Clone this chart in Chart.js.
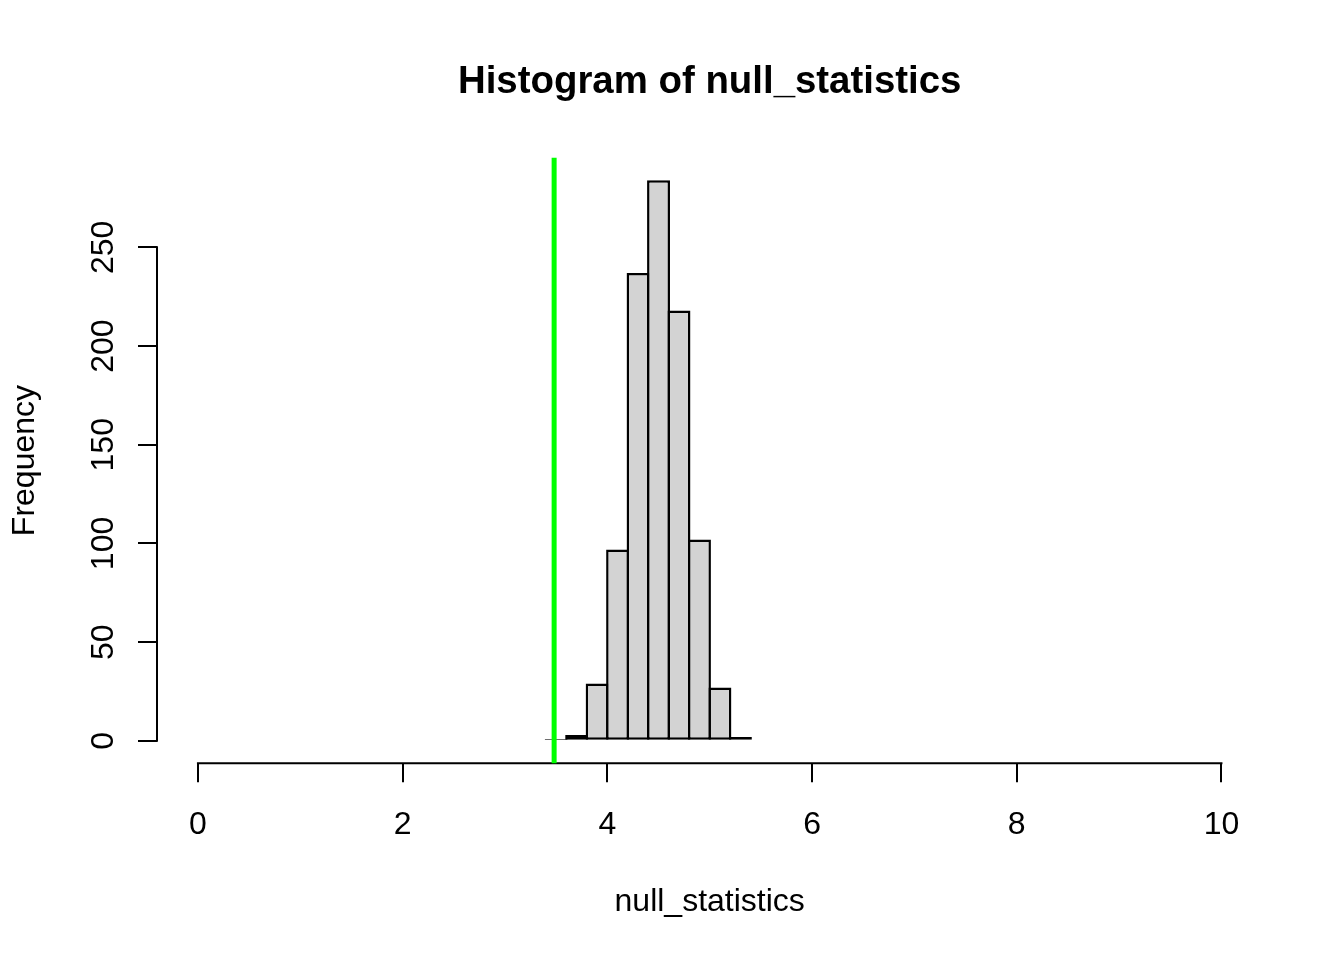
<!DOCTYPE html>
<html>
<head>
<meta charset="utf-8">
<title>Histogram of null_statistics</title>
<script src="https://cdn.jsdelivr.net/npm/chart.js@4.4.1/dist/chart.umd.min.js"></script>
<style>
  html, body { margin: 0; padding: 0; background: #ffffff; }
  #hist { display: block; }
</style>
</head>
<body>
<canvas id="hist" width="1344" height="960"></canvas>
<script>
// histogram bins (width 0.2)
const binCenters = [3.5, 3.7, 3.9, 4.1, 4.3, 4.5, 4.7, 4.9, 5.1, 5.3];
const binCounts = [1, 3, 29, 97, 237, 284, 218, 102, 27, 2];
const xTicks = [0, 2, 4, 6, 8, 10];
const yTicks = [0, 50, 100, 150, 200, 250];
const observedStatistic = 3.48;

const FONT = "'Liberation Sans', Arial, sans-serif";
Chart.defaults.font.family = FONT;
Chart.defaults.color = '#000000';

// R extends axis ranges by 4% on both sides
const xLo = xTicks[0], xHi = xTicks[xTicks.length - 1];
const yHi = Math.max(...binCounts);
const xPad = (xHi - xLo) * 0.04;
const yPad = yHi * 0.04;

// axis lines that stop at the first and last tick, plus the rotated y labels
const rAxesPlugin = {
    id: 'rAxes',
    beforeDatasetsDraw(chart) {
        const {ctx, chartArea, scales: {x, y}} = chart;
        ctx.save();
        ctx.strokeStyle = '#000000';
        ctx.lineWidth = 2;
        ctx.beginPath();
        ctx.moveTo(x.getPixelForValue(xTicks[0]) - 1, chartArea.bottom);
        ctx.lineTo(x.getPixelForValue(xTicks[xTicks.length - 1]) + 1, chartArea.bottom);
        ctx.moveTo(chartArea.left, y.getPixelForValue(yTicks[0]) + 1);
        ctx.lineTo(chartArea.left, y.getPixelForValue(yTicks[yTicks.length - 1]) - 1);
        ctx.stroke();

        ctx.fillStyle = '#000000';
        ctx.font = '32px ' + FONT;
        ctx.textAlign = 'center';
        ctx.textBaseline = 'alphabetic';
        y.ticks.forEach(t => {
            ctx.save();
            ctx.translate(chartArea.left - 44, y.getPixelForValue(t.value));
            ctx.rotate(-Math.PI / 2);
            ctx.fillText(String(t.value), 0, 0);
            ctx.restore();
        });
        ctx.restore();
    }
};

new Chart(document.getElementById('hist'), {
    type: 'bar',
    data: {
        datasets: [
            {
                type: 'line',
                data: [
                    {x: observedStatistic, y: -yPad},
                    {x: observedStatistic, y: yHi + yPad}
                ],
                borderColor: '#00ff00',
                borderWidth: 5,
                pointRadius: 0,
                clip: false,
                order: 1
            },
            {
                type: 'bar',
                data: binCenters.map((c, i) => ({x: c, y: binCounts[i]})),
                backgroundColor: '#d3d3d3',
                borderColor: '#000000',
                borderWidth: 2.5,
                borderSkipped: false,
                barPercentage: 1.12,
                categoryPercentage: 1.0,
                order: 2
            }
        ]
    },
    options: {
        responsive: false,
        animation: false,
        layout: {padding: {left: 0, right: 81.6, top: 0, bottom: 0}},
        plugins: {
            legend: {display: false},
            tooltip: {enabled: false},
            title: {
                display: true,
                text: 'Histogram of null_statistics',
                fullSize: false,
                color: '#000000',
                font: {size: 38.4, weight: 'bold', lineHeight: 1.2},
                padding: {top: 59.5, bottom: 52.2}
            }
        },
        scales: {
            x: {
                type: 'linear',
                min: xLo - xPad,
                max: xHi + xPad,
                offset: false,
                afterBuildTicks: scale => { scale.ticks = xTicks.map(v => ({value: v})); },
                afterFit: scale => { scale.height = 196.7; },
                ticks: {
                    callback: v => String(v),
                    font: {size: 32},
                    color: '#000000',
                    padding: 24,
                    maxRotation: 0,
                    autoSkip: false
                },
                grid: {
                    offset: false,
                    drawOnChartArea: false,
                    drawTicks: true,
                    tickLength: 19,
                    color: '#000000',
                    lineWidth: 2
                },
                border: {display: false},
                title: {
                    display: true,
                    text: 'null_statistics',
                    color: '#000000',
                    font: {size: 32, lineHeight: 1.2},
                    padding: {top: 0, bottom: 39}
                }
            },
            y: {
                type: 'linear',
                min: -yPad,
                max: yHi + yPad,
                afterBuildTicks: scale => { scale.ticks = yTicks.map(v => ({value: v})); },
                afterFit: scale => { scale.width = 157; },
                ticks: {display: false},
                grid: {
                    drawOnChartArea: false,
                    drawTicks: true,
                    tickLength: 19,
                    color: '#000000',
                    lineWidth: 2
                },
                border: {display: false},
                title: {
                    display: true,
                    text: 'Frequency',
                    color: '#000000',
                    font: {size: 32, lineHeight: 1.2},
                    padding: {top: 5.5, bottom: 0}
                }
            }
        }
    },
    plugins: [rAxesPlugin]
});
</script>
</body>
</html>
